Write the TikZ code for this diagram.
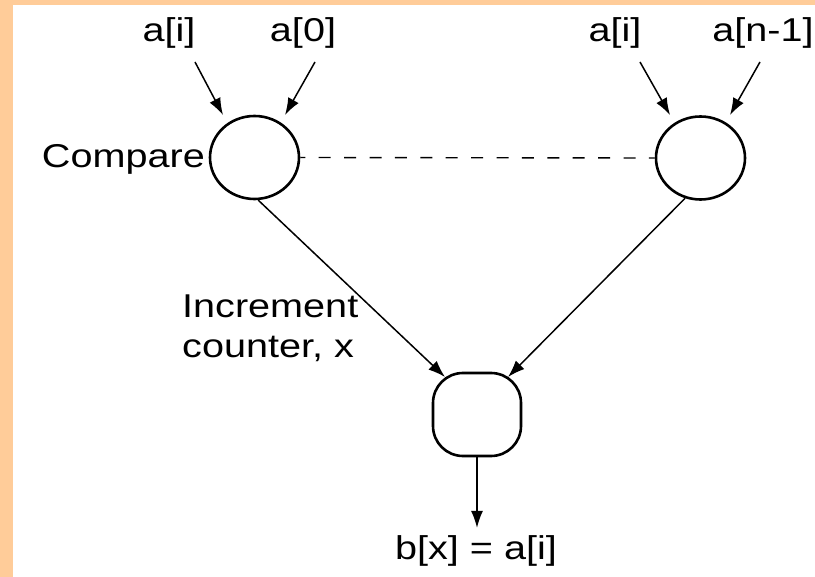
\documentclass[tikz,border=0pt]{standalone}
\usepackage{fontspec}
\setmainfont{Liberation Sans}[FakeStretch=1.2]
\usetikzlibrary{arrows.meta,shapes.geometric}
\definecolor{peach}{RGB}{255,204,153}
\begin{document}
\begin{tikzpicture}[x=1pt,y=-1pt,
  lab/.style={inner sep=0pt, anchor=base, font=\fontsize{33}{40}\selectfont},
  cmp/.style={draw, ellipse, line width=2.6pt, minimum width=89pt, minimum height=83pt, inner sep=0pt},
  box/.style={draw, rectangle, rounded corners=30pt, line width=2.6pt, minimum width=88pt, minimum height=83pt, inner sep=0pt},
  arr/.style={line width=1.5pt, -{Latex[length=17pt,width=12pt]}},
  dsh/.style={line width=1.4pt, dash pattern=on 12pt off 13.4pt, dash phase=7pt}
  ]
\useasboundingbox (0,0) rectangle (815,577);
\fill[white] (0,0) rectangle (815,577);
\fill[peach] (0,0) rectangle (13,577);
\fill[peach] (0,0) rectangle (815,5);

\node[lab] (ai1) at (169,42) {a[i]};
\node[lab] (a0) at (303,42) {a[0]};
\node[lab] (ai2) at (615,42) {a[i]};
\node[lab] (an) at (763,42) {a[n-1]};
\node[lab, anchor=base east] (cmpl) at (205,168) {Compare};
\node[lab, anchor=base west, align=left] (inc) at (182,358) {Increment\\counter, x};
\node[lab] (out) at (476,560) {b[x] = a[i]};

\node[cmp] (c1) at (254.5,157.5) {};
\node[cmp] (c2) at (700.5,158) {};
\node[box] (bx) at (477,414.5) {};

\coordinate (s1) at (195,62); \coordinate (t1) at (223,115);
\coordinate (s2) at (315,62); \coordinate (t2) at (285,115);
\coordinate (s3) at (640,62); \coordinate (t3) at (670,115);
\coordinate (s4) at (760,62); \coordinate (t4) at (730,115);
\coordinate (e1) at (445,377); \coordinate (e2) at (508,377);

\draw[arr] (s1) -- (t1);
\draw[arr] (s2) -- (t2);
\draw[arr] (s3) -- (t3);
\draw[arr] (s4) -- (t4);
\draw[dsh] (c1.east) -- (c2.west);
\draw[arr] (c1.-85) -- (e1);
\draw[arr] (c2.-111) -- (e2);
\draw[arr, shorten >=8pt] (bx.south) -- (bx.south |- out.north);
\end{tikzpicture}
\end{document}
